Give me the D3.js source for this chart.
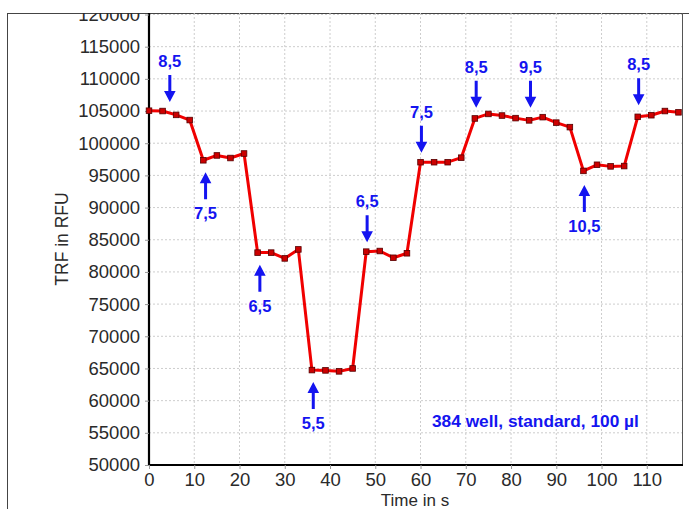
<!DOCTYPE html>
<html><head><meta charset="utf-8">
<script src="https://cdn.jsdelivr.net/npm/d3@7"></script>
<style>html,body{margin:0;padding:0;background:#fff;}svg{display:block;}</style>
</head><body>
<svg id="c" width="689" height="509"></svg>
<script>
// ---- data ----
const times = [0,3,6,9,12,15,18,21,24,27,30,33,36,39,42,45,48,51,54,57,60,63,66,69,72,75,78,81,84,87,90,93,96,99,102,105,108,111,114,117];
const values = [105050,105000,104400,103600,97350,98100,97700,98400,83000,83000,82100,83500,64750,64700,64550,65000,83150,83250,82200,82900,97050,97050,97050,97750,103850,104550,104300,103900,103550,104050,103200,102500,95700,96650,96400,96450,104100,104350,105000,104800];
const xTicks = [0,10,20,30,40,50,60,70,80,90,100,110];
const yTicks = [50000,55000,60000,65000,70000,75000,80000,85000,90000,95000,100000,105000,110000,115000,120000];
const annLabels = ["8,5","7,5","6,5","5,5","6,5","7,5","8,5","9,5","10,5","8,5"];
const annTimes  = [4.6,12.5,24.5,36.3,48.2,60.2,72.3,84.3,96.2,108.2];
const annTips   = [106400,95500,81100,62900,84600,98500,105500,105500,93500,105900];
const annDirs   = ["down","up","up","up","down","down","down","down","up","down"];
const noteText = "384 well, standard, 100 µl";

const svg = d3.select("#c");
const L = 149, R = 683, T = 14.5, B = 465;
const x = d3.scaleLinear().domain([0,118]).range([L,R]);
const y = d3.scaleLinear().domain([50000,120000]).range([B,T]);
const blue = "#1414f0";
const font = "'Liberation Sans', Arial, sans-serif";

svg.append("defs").append("clipPath").attr("id","clip")
  .append("rect").attr("x",0).attr("y",13).attr("width",689).attr("height",496);
const g = svg.append("g").attr("clip-path","url(#clip)");

// outer frame
g.append("line").attr("x1",7.5).attr("x2",689).attr("y1",13.5).attr("y2",13.5).attr("stroke","#444").attr("stroke-width",1);
g.append("line").attr("x1",7.5).attr("x2",7.5).attr("y1",13).attr("y2",509).attr("stroke","#444").attr("stroke-width",1);

// grid
g.append("g").selectAll("line").data(xTicks.slice(1)).join("line")
  .attr("x1",d=>x(d)).attr("x2",d=>x(d)).attr("y1",13).attr("y2",B)
  .attr("stroke","#cdcdcd").attr("stroke-dasharray","2,2");
g.append("g").selectAll("line").data(yTicks.slice(1)).join("line")
  .attr("x1",L).attr("x2",R).attr("y1",d=>y(d)).attr("y2",d=>y(d))
  .attr("stroke","#cdcdcd").attr("stroke-dasharray","2,2");

// right border
g.append("line").attr("x1",R-0.5).attr("x2",R-0.5).attr("y1",13).attr("y2",B).attr("stroke","#555").attr("stroke-width",1);

// axes
const ya = g.append("g").attr("transform",`translate(${L},0)`)
  .call(d3.axisLeft(y).tickValues(yTicks).tickSize(4).tickPadding(5).tickFormat(d3.format("d")));
const xa = g.append("g").attr("transform",`translate(0,${B})`)
  .call(d3.axisBottom(x).tickValues(xTicks).tickSize(4).tickPadding(4).tickFormat(d3.format("d")));
[ya,xa].forEach(a=>{
  a.select(".domain").attr("stroke","#000").attr("stroke-width",2.2);
  a.selectAll(".tick line").attr("stroke","#999");
  a.selectAll("text").attr("font-family",font).attr("font-size",18.5).attr("fill","#2a2a2a");
});
ya.select(".domain").attr("d",`M0,13V${B}`);
xa.select(".domain").attr("d",`M${L},0H${R}`);

// axis titles
g.append("text").attr("transform",`translate(63,${(13+B)/2}) rotate(-90)`)
  .attr("text-anchor","middle").attr("dominant-baseline","middle")
  .attr("font-family",font).attr("font-size",17.5).attr("fill","#2a2a2a").text("TRF in RFU");
g.append("text").attr("x",415).attr("y",506).attr("text-anchor","middle")
  .attr("font-family",font).attr("font-size",17).attr("fill","#2a2a2a").text("Time in s");

// line
const pts = times.map((t,i)=>[t,values[i]]);
g.append("path").datum(pts)
  .attr("d",d3.line().x(d=>x(d[0])).y(d=>y(d[1])))
  .attr("fill","none").attr("stroke","#f00000").attr("stroke-width",3).attr("stroke-linejoin","round");
g.append("g").selectAll("rect").data(pts).join("rect")
  .attr("x",d=>x(d[0])-2.8).attr("y",d=>y(d[1])-2.8).attr("width",5.6).attr("height",5.6)
  .attr("fill","#cc0000").attr("stroke","#550000").attr("stroke-width",0.8);

// annotations
const ann = g.append("g");
annLabels.forEach((lab,i)=>{
  const ax = x(annTimes[i]), ty = y(annTips[i]);
  const s = annDirs[i]==="down" ? -1 : 1; // tail direction
  const len = 27, head = 11, hw = 5.8, sw = 1.5;
  const tail = ty + s*len, neck = ty + s*head;
  ann.append("path")
    .attr("d",`M${ax},${ty} L${ax-hw},${neck} L${ax-sw},${neck} L${ax-sw},${tail} L${ax+sw},${tail} L${ax+sw},${neck} L${ax+hw},${neck} Z`)
    .attr("fill",blue);
  ann.append("text").attr("x",ax).attr("y",tail + s*14)
    .attr("text-anchor","middle").attr("dominant-baseline","central")
    .attr("font-family",font).attr("font-weight","bold").attr("font-size",16.5).attr("fill",blue).text(lab);
});
g.append("text").attr("x",432).attr("y",421).attr("dominant-baseline","central")
  .attr("font-family",font).attr("font-weight","bold").attr("font-size",17.3).attr("fill",blue).text(noteText);
</script>
</body></html>
